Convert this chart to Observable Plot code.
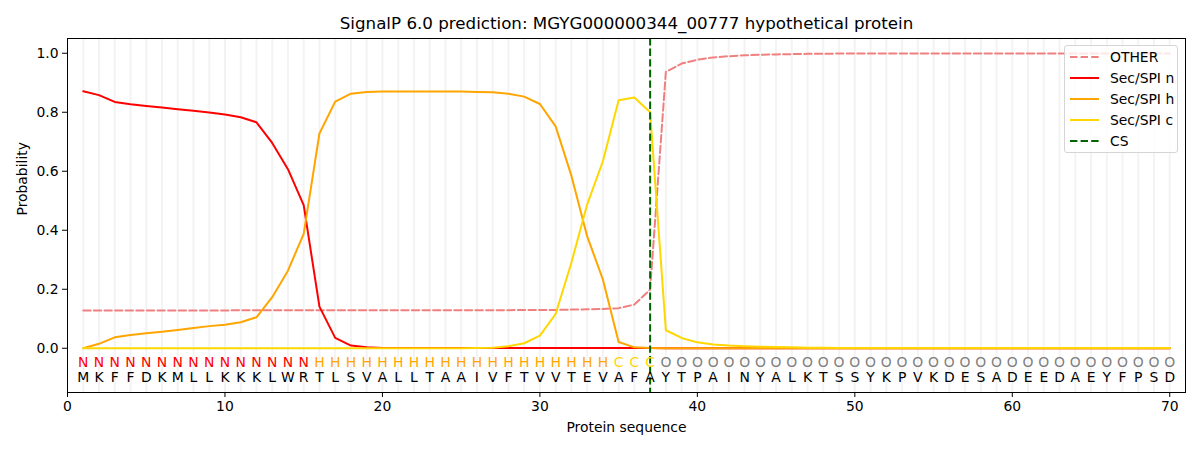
<!DOCTYPE html>
<html>
<head>
<meta charset="utf-8">
<script src="https://cdn.jsdelivr.net/npm/d3@7"></script>
<script src="https://cdn.jsdelivr.net/npm/@observablehq/plot@0.6"></script>
<style>
  body { margin: 0; background: white; }
  #wrap { position: relative; width: 1200px; height: 450px; font-family: "DejaVu Sans", sans-serif; }
  #legend { position: absolute; left: 1064px; top: 45px; width: 112px; height: 106px;
    border: 1px solid #d5d5d5; border-radius: 3px; background: rgba(255,255,255,0.8); font-size: 13.9px; }
  .item { position: absolute; left: 0; height: 20px; display: flex; align-items: center; }
  .item svg { margin-left: 5px; margin-right: 11px; }
</style>
</head>
<body>
<div id="wrap"></div>
<script>
const title = "SignalP 6.0 prediction: MGYG000000344_00777 hypothetical protein";
const sequence = "MKFFDKMLLKKKLWRTLSVALLTAAIVFTVVTEVAFAYTPAINYALKTSSYKPVKDESADEEDAEYFPSD";
const labels   = "NNNNNNNNNNNNNNNHHHHHHHHHHHHHHHHHHHCCCOOOOOOOOOOOOOOOOOOOOOOOOOOOOOOOOO";
const xTicks = [0, 10, 20, 30, 40, 50, 60, 70];
const yTicks = [0, 0.2, 0.4, 0.6, 0.8, 1.0];
const csPosition = 37;

const other = [0.128,0.128,0.128,0.128,0.128,0.128,0.128,0.128,0.128,0.128,
               0.129,0.129,0.129,0.129,0.129,0.129,0.129,0.129,0.129,0.129,
               0.129,0.129,0.129,0.129,0.129,0.129,0.129,0.129,0.130,0.130,
               0.130,0.131,0.132,0.133,0.136,0.148,0.199,0.937,0.965,0.978,
               0.986,0.990,0.993,0.995,0.996,0.997,0.998,0.998,0.999,0.999,
               0.999,0.999,0.999,0.999,0.999,0.999,0.999,0.999,0.999,0.999,
               0.999,0.999,0.999,0.999,0.999,0.999,0.999,0.999,0.999,0.999];
const secN  = [0.871,0.858,0.835,0.827,0.821,0.816,0.810,0.805,0.799,0.792,
               0.783,0.766,0.696,0.607,0.485,0.141,0.035,0.009,0.003,0.001,
               0.001,0.001,0.001,0.001,0.001,0.001,0.001,0.001,0.001,0.001,
               0.001,0.001,0.001,0.001,0.001,0.001,0.001,0,0,0,
               0,0,0,0,0,0,0,0,0,0,0,0,0,0,0,0,0,0,0,0,0,0,0,0,0,0,0,0,0,0];
const secH  = [0.000,0.015,0.037,0.045,0.051,0.056,0.062,0.069,0.075,0.080,
               0.088,0.105,0.173,0.263,0.388,0.728,0.836,0.863,0.869,0.870,
               0.870,0.870,0.870,0.870,0.870,0.869,0.868,0.863,0.853,0.828,
               0.752,0.585,0.380,0.233,0.021,0.003,0.001,0,0,0,
               0,0,0,0,0,0,0,0,0,0,0,0,0,0,0,0,0,0,0,0,0,0,0,0,0,0,0,0,0,0];
const secC  = [0,0,0,0,0,0,0,0,0,0,0,0,0,0,0,0,0,0,0,0,0,0,0,0,0,0.001,
               0.002,0.007,0.017,0.043,0.116,0.290,0.487,0.634,0.841,0.850,0.800,
               0.061,0.035,0.020,0.013,0.009,0.007,0.005,0.004,0.003,0.002,0.002,
               0.001,0.001,0.001,0.001,0.001,0.001,0.001,0.001,0.001,0.001,0.001,
               0.001,0.001,0.001,0.001,0.001,0.001,0.001,0.001,0.001,0.001,0.001];

const series = [
  {name: "OTHER",     values: other, color: "#f08080", dash: "7.4,3.2"},
  {name: "Sec/SPI n", values: secN,  color: "red",     dash: null},
  {name: "Sec/SPI h", values: secH,  color: "orange",  dash: null},
  {name: "Sec/SPI c", values: secC,  color: "gold",    dash: null}
];
const labelColor = {N: "red", H: "orange", C: "gold", O: "gray"};

const residues = Array.from(sequence, (aa, i) => ({pos: i + 1, aa, lab: labels[i]}));

const lineMarks = series.map(s =>
  Plot.line(s.values.map((v, i) => ({x: i + 1, y: v})), {
    x: "x", y: "y", stroke: s.color, strokeWidth: 2,
    strokeDasharray: s.dash ?? undefined
  })
);

const chart = Plot.plot({
  width: 1200, height: 450,
  marginLeft: 67, marginRight: 15, marginTop: 38, marginBottom: 58,
  style: {fontFamily: "DejaVu Sans", fontSize: "13.9px", color: "black", background: "white"},
  x: {domain: [0, 71]},
  y: {domain: [-0.15, 1.05]},
  marks: [
    Plot.ruleX(residues, {x: "pos", stroke: "#d3d3d3", strokeOpacity: 0.28, strokeWidth: 2}),
    ...lineMarks,
    Plot.ruleX([csPosition], {x: d => d, stroke: "darkgreen", strokeWidth: 2, strokeDasharray: "7.4,3.2"}),
    Plot.text(residues, {x: "pos", y: -0.05, text: "lab", fill: d => labelColor[d.lab], fontSize: 13.9}),
    Plot.text(residues, {x: "pos", y: -0.1, text: "aa", fill: "black", fontSize: 13.9}),
    Plot.frame({stroke: "black", strokeWidth: 1}),
    Plot.axisX({ticks: xTicks, tickSize: 5, tickPadding: 4, label: null}),
    Plot.axisY({ticks: yTicks, tickFormat: ".1f", tickSize: 5, tickPadding: 4, label: null}),
    Plot.text([title], {frameAnchor: "top", lineAnchor: "middle", dy: -15, fontSize: 16.7}),
    Plot.text(["Protein sequence"], {frameAnchor: "bottom", lineAnchor: "middle", dy: 35, fontSize: 13.9}),
    Plot.text(["Probability"], {frameAnchor: "left", lineAnchor: "middle", dx: -45, rotate: -90, fontSize: 13.9})
  ]
});

const wrap = document.getElementById("wrap");
wrap.appendChild(chart);

const legend = document.createElement("div");
legend.id = "legend";
const legendItems = [...series, {name: "CS", color: "darkgreen", dash: "7.4,3.2"}];
legendItems.forEach((s, i) => {
  const row = document.createElement("div");
  row.className = "item";
  row.style.top = (1 + i * 21) + "px";
  row.innerHTML = `<svg width="29" height="6"><line x1="0" y1="3" x2="29" y2="3" stroke="${s.color}" stroke-width="2" ${s.dash ? `stroke-dasharray="${s.dash}"` : ""}/></svg><span>${s.name}</span>`;
  legend.appendChild(row);
});
wrap.appendChild(legend);
</script>
</body>
</html>
